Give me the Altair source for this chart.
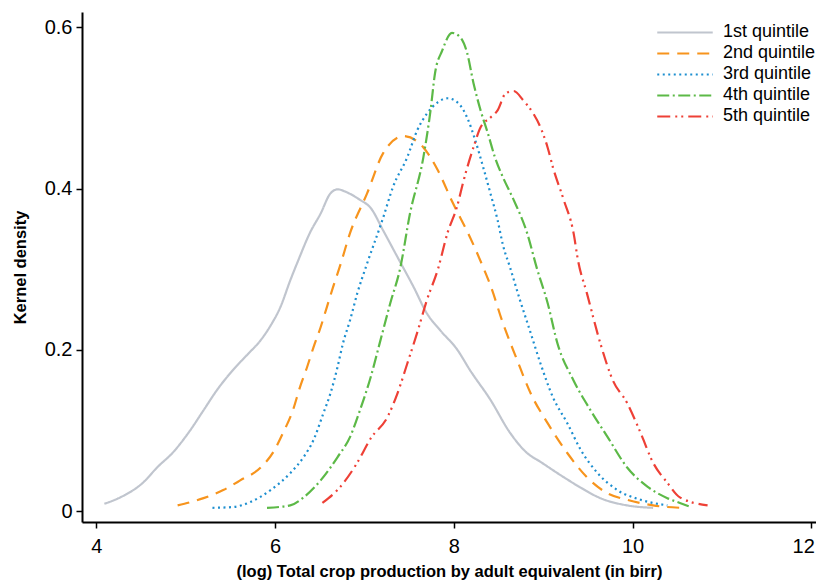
import altair as alt
import pandas as pd

quintiles = ["1st quintile", "2nd quintile", "3rd quintile", "4th quintile", "5th quintile"]
colors = ["#c0c5ce", "#f7941d", "#1d8fd0", "#5cb947", "#ee4036"]
dashes = [[1, 0], [12, 8], [2, 3.5], [12, 3.5, 2, 3.5], [13, 5, 2, 4, 2, 5]]

q1_x = [4.09, 4.27, 4.53, 4.68, 4.86, 5.05, 5.20, 5.35, 5.53, 5.69, 5.84, 5.95, 6.06, 6.17, 6.26, 6.39, 6.51, 6.62, 6.70, 6.81, 6.95, 7.07, 7.21, 7.37, 7.55, 7.70, 7.85, 8.04, 8.18, 8.41, 8.63, 8.82, 8.97, 9.23, 9.42, 9.64, 9.94, 10.23]
q1_y = [0.009, 0.017, 0.036, 0.054, 0.073, 0.100, 0.125, 0.150, 0.175, 0.194, 0.212, 0.230, 0.253, 0.286, 0.311, 0.345, 0.369, 0.394, 0.399, 0.395, 0.386, 0.376, 0.348, 0.315, 0.278, 0.245, 0.224, 0.200, 0.175, 0.138, 0.097, 0.072, 0.061, 0.042, 0.029, 0.016, 0.007, 0.004]

q2_x = [4.91, 5.20, 5.42, 5.61, 5.84, 5.98, 6.09, 6.20, 6.28, 6.36, 6.43, 6.51, 6.58, 6.65, 6.73, 6.84, 7.03, 7.21, 7.44, 7.66, 7.82, 7.99, 8.18, 8.33, 8.41, 8.55, 8.71, 8.86, 9.05, 9.27, 9.49, 9.72, 9.94, 10.23, 10.53]
q2_y = [0.007, 0.016, 0.026, 0.038, 0.054, 0.073, 0.097, 0.125, 0.154, 0.179, 0.203, 0.228, 0.253, 0.278, 0.305, 0.345, 0.394, 0.444, 0.465, 0.451, 0.423, 0.382, 0.340, 0.302, 0.280, 0.233, 0.187, 0.146, 0.109, 0.072, 0.042, 0.022, 0.014, 0.007, 0.004]

q3_x = [5.30, 5.53, 5.72, 5.95, 6.17, 6.32, 6.43, 6.54, 6.62, 6.70, 6.76, 6.84, 6.92, 7.03, 7.21, 7.32, 7.48, 7.59, 7.70, 7.82, 7.93, 8.04, 8.15, 8.24, 8.33, 8.41, 8.49, 8.55, 8.63, 8.74, 8.86, 8.97, 9.11, 9.27, 9.42, 9.61, 9.83, 10.09, 10.39]
q3_y = [0.004, 0.005, 0.011, 0.026, 0.047, 0.067, 0.088, 0.121, 0.146, 0.179, 0.208, 0.237, 0.270, 0.307, 0.364, 0.402, 0.439, 0.472, 0.493, 0.507, 0.512, 0.507, 0.488, 0.460, 0.426, 0.394, 0.361, 0.330, 0.302, 0.262, 0.221, 0.183, 0.141, 0.109, 0.076, 0.047, 0.026, 0.014, 0.007]

q4_x = [5.91, 6.17, 6.32, 6.51, 6.70, 6.84, 6.95, 7.07, 7.18, 7.29, 7.40, 7.51, 7.66, 7.74, 7.79, 7.87, 7.98, 8.07, 8.15, 8.22, 8.30, 8.38, 8.46, 8.55, 8.67, 8.82, 8.93, 9.05, 9.16, 9.34, 9.53, 9.72, 9.94, 10.17, 10.39, 10.53, 10.65]
q4_y = [0.004, 0.007, 0.017, 0.038, 0.067, 0.092, 0.125, 0.166, 0.212, 0.258, 0.301, 0.369, 0.439, 0.497, 0.543, 0.571, 0.593, 0.588, 0.568, 0.531, 0.497, 0.469, 0.439, 0.414, 0.386, 0.345, 0.301, 0.258, 0.208, 0.162, 0.125, 0.092, 0.054, 0.030, 0.016, 0.010, 0.005]

q5_x = [6.53, 6.73, 6.92, 7.07, 7.26, 7.37, 7.48, 7.59, 7.70, 7.82, 7.93, 8.04, 8.11, 8.22, 8.30, 8.41, 8.49, 8.58, 8.67, 8.78, 8.89, 8.97, 9.05, 9.11, 9.23, 9.34, 9.39, 9.49, 9.64, 9.78, 9.94, 10.09, 10.23, 10.39, 10.53, 10.84]
q5_y = [0.010, 0.030, 0.060, 0.090, 0.117, 0.146, 0.183, 0.221, 0.262, 0.299, 0.345, 0.379, 0.410, 0.451, 0.476, 0.488, 0.497, 0.518, 0.521, 0.509, 0.493, 0.476, 0.451, 0.426, 0.386, 0.345, 0.311, 0.270, 0.208, 0.162, 0.134, 0.097, 0.060, 0.035, 0.017, 0.007]

series = [(q1_x, q1_y), (q2_x, q2_y), (q3_x, q3_y), (q4_x, q4_y), (q5_x, q5_y)]
rows = []
for name, (xs, ys) in zip(quintiles, series):
    for i, (xv, yv) in enumerate(zip(xs, ys)):
        rows.append({"q": name, "x": xv, "y": yv, "o": i})
df = pd.DataFrame(rows)

FONT = "Liberation Sans"

chart = alt.Chart(df).mark_line(strokeWidth=2.2, interpolate="monotone").encode(
    x=alt.X("x:Q",
            scale=alt.Scale(domain=[3.84, 12.053], nice=False, zero=False),
            axis=alt.Axis(values=[4, 6, 8, 10, 12], format="d",
                          title="(log) Total crop production by adult equivalent (in birr)",
                          labelPadding=8, titlePadding=7,
                          labelFlush=6, labelFlushOffset=3)),
    y=alt.Y("y:Q",
            scale=alt.Scale(domain=[-0.0136, 0.619], nice=False, zero=False),
            axis=alt.Axis(values=[0, 0.2, 0.4, 0.6], format="~g",
                          title="Kernel density", labelPadding=4, titlePadding=16)),
    color=alt.Color("q:N", scale=alt.Scale(domain=quintiles, range=colors),
                    legend=alt.Legend(title=None, orient="none", legendX=574, legendY=10,
                                      symbolType="stroke", symbolSize=3080,
                                      symbolStrokeWidth=2, clipHeight=20.75,
                                      rowPadding=0, padding=0, labelOffset=9,
                                      labelFontSize=18, labelFont=FONT, labelColor="black")),
    strokeDash=alt.StrokeDash("q:N", scale=alt.Scale(domain=quintiles, range=dashes), legend=None),
    order="o:Q",
).properties(
    width=734, height=510,
    autosize=alt.AutoSizeParams(type="none"),
    padding={"left": 74, "top": 4, "right": 0, "bottom": 60},
).configure_view(stroke=None).configure_axis(
    grid=False, domainColor="black", domainWidth=2, tickColor="black", tickWidth=1.5,
    tickSize=6, labelFont=FONT, labelFontSize=20, labelColor="black",
    titleFont=FONT, titleFontSize=16.5, titleFontWeight="bold", titleColor="black",
)

chart.save("out.html", embed_options={"renderer": "svg", "actions": False})
